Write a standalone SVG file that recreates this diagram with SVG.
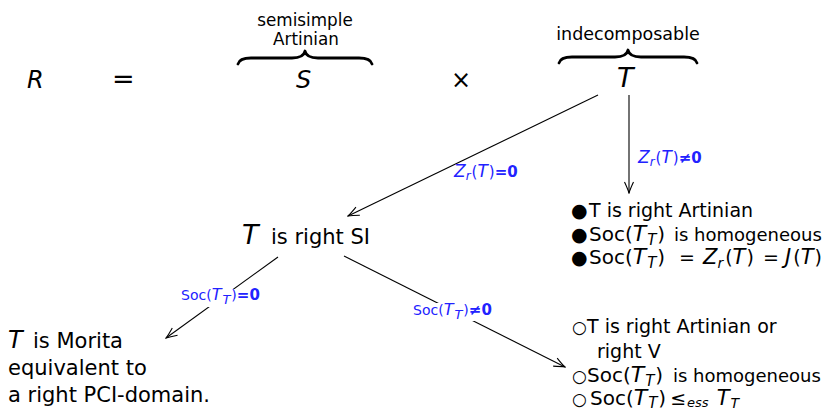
<svg xmlns="http://www.w3.org/2000/svg" width="825" height="411" viewBox="0 0 825 411">
<defs>
<style>
text{font-family:"DejaVu Sans","Liberation Sans",sans-serif;fill:#000}
.it{font-style:italic}
.b{font-weight:bold}
.lbl text{fill:#2222ff}
.con{stroke:#000;stroke-width:1.1;fill:none}
.brace{stroke:#000;stroke-width:2.8;fill:none;stroke-linecap:round;stroke-linejoin:round}
.bg{fill:#fff}
.dot{font-size:19px}
.ring{font-size:17px}
</style>
<marker id="arr" markerUnits="userSpaceOnUse" orient="auto" viewBox="-12 -6 13 12" refX="0" refY="0" markerWidth="13" markerHeight="12">
<path d="M-11,-4.5 Q-4,-1.2 0,0 Q-4,1.2 -11,4.5" fill="none" stroke="#000" stroke-width="1.1"/>
</marker>
</defs>
<rect width="825" height="411" fill="#fff"/>

<g id="connectors">
<path class="con" d="M598,95 L348,216" marker-end="url(#arr)"/>
<path class="con" d="M629,95 L629,193" marker-end="url(#arr)"/>
<path class="con" d="M278,257 L166,338" marker-end="url(#arr)"/>
<path class="con" d="M344,256 L565,367" marker-end="url(#arr)"/>
</g>

<g id="equation">
<text class="it" x="27" y="88" font-size="24">R</text>
<text x="112" y="88" font-size="27">=</text>
<text x="296" y="88" font-size="24" class="it">S</text>
<text x="451" y="88" font-size="24">×</text>
</g>

<g id="node-S">
<path class="brace" d="M238,64 C239,60 243,58 251,58 L292,58 C300,58 304,56 305,51 C306,56 310,58 318,58 L359,58 C367,58 371,60 372,64"/>
<text x="305" y="26" font-size="16.8" text-anchor="middle">semisimple</text>
<text x="306" y="45" font-size="16.8" text-anchor="middle">Artinian</text>
</g>

<g id="node-T">
<path class="brace" d="M559,63 C560,59 564,57 572,57 L615,57 C623,57 627,55 628,50 C629,55 633,57 641,57 L684,57 C692,57 696,59 697,63"/>
<text x="628" y="40" font-size="17.5" text-anchor="middle">indecomposable</text>
<text x="617" y="87" font-size="27" class="it">T</text>
</g>

<g id="node-SI">
<text x="242" y="244" font-size="27" class="it">T</text>
<text x="271" y="244" font-size="21">is right SI</text>
</g>

<g id="node-artinian">
<text y="217" font-size="19"><tspan x="571" class="dot">●</tspan><tspan x="589">T is right Artinian</tspan></text>
<text y="241" font-size="20"><tspan x="571" class="dot">●</tspan><tspan x="589">Soc(</tspan><tspan class="it" font-size="22">T</tspan><tspan class="it" font-size="15" dy="4" dx="1">T</tspan><tspan dy="-4" dx="1">)</tspan></text>
<text x="674" y="241" font-size="18">is homogeneous</text>
<text y="264" font-size="20"><tspan x="571" class="dot">●</tspan><tspan x="589">Soc(</tspan><tspan class="it" font-size="22">T</tspan><tspan class="it" font-size="15" dy="4" dx="1">T</tspan><tspan dy="-4" dx="1">)</tspan><tspan x="679" font-size="19">=</tspan><tspan x="703" class="it" font-size="21">Z</tspan><tspan class="it" font-size="14" dy="4">r</tspan><tspan dy="-4" dx="2" font-size="19">(</tspan><tspan class="it" font-size="21">T</tspan><tspan dx="1" font-size="19">)</tspan><tspan x="763" font-size="19">=</tspan><tspan x="785" class="it" font-size="21">J</tspan><tspan dx="2" font-size="19">(</tspan><tspan class="it" font-size="21">T</tspan><tspan dx="1" font-size="19">)</tspan></text>
</g>

<g id="node-morita">
<text x="8" y="348" font-size="24" class="it">T</text>
<text x="33" y="348" font-size="21">is Morita</text>
<text x="8" y="375" font-size="21">equivalent to</text>
<text x="8" y="402" font-size="21">a right PCI-domain.</text>
</g>

<g id="node-v">
<text y="333" font-size="19"><tspan x="572" class="ring">○</tspan><tspan x="587">T is right Artinian or</tspan></text>
<text x="597" y="358" font-size="19">right V</text>
<text y="382" font-size="20"><tspan x="572" class="ring">○</tspan><tspan x="587">Soc(</tspan><tspan class="it" font-size="22">T</tspan><tspan class="it" font-size="15" dy="4" dx="1">T</tspan><tspan dy="-4" dx="1">)</tspan></text>
<text x="673" y="382" font-size="18">is homogeneous</text>
<text y="405" font-size="20"><tspan x="572" class="ring">○</tspan><tspan x="590">Soc(</tspan><tspan class="it" font-size="22">T</tspan><tspan class="it" font-size="15" dy="3" dx="1">T</tspan><tspan dy="-3" dx="1">)</tspan><tspan dx="4" font-size="19">≤</tspan><tspan class="it" font-size="13" dy="2" dx="1">ess</tspan><tspan class="it" font-size="21" dy="-2" dx="8">T</tspan><tspan class="it" font-size="14" dy="3" dx="1">T</tspan></text>
</g>

<g id="labels" class="lbl">
<text x="454" y="177" font-size="15"><tspan class="it" font-size="17">Z</tspan><tspan class="it" font-size="12" dy="3">r</tspan><tspan dy="-3" dx="1">(</tspan><tspan class="it" font-size="17">T</tspan><tspan dx="1">)</tspan><tspan class="b">=0</tspan></text>
<text x="638" y="163" font-size="15"><tspan class="it" font-size="17">Z</tspan><tspan class="it" font-size="12" dy="3">r</tspan><tspan dy="-3" dx="1">(</tspan><tspan class="it" font-size="17">T</tspan><tspan dx="1">)</tspan><tspan class="b">≠0</tspan></text>
<rect class="bg" x="180" y="289" width="84" height="18"/>
<text x="181" y="300" font-size="14">Soc(<tspan class="it" font-size="16">T</tspan><tspan class="it" font-size="13" dy="4" dx="1">T</tspan><tspan dy="-4" dx="1">)</tspan><tspan class="b" font-size="15">=0</tspan></text>
<rect class="bg" x="411" y="303" width="86" height="18"/>
<text x="413" y="315" font-size="14">Soc(<tspan class="it" font-size="16">T</tspan><tspan class="it" font-size="13" dy="4" dx="1">T</tspan><tspan dy="-4" dx="1">)</tspan><tspan class="b" font-size="15">≠0</tspan></text>
</g>
</svg>
